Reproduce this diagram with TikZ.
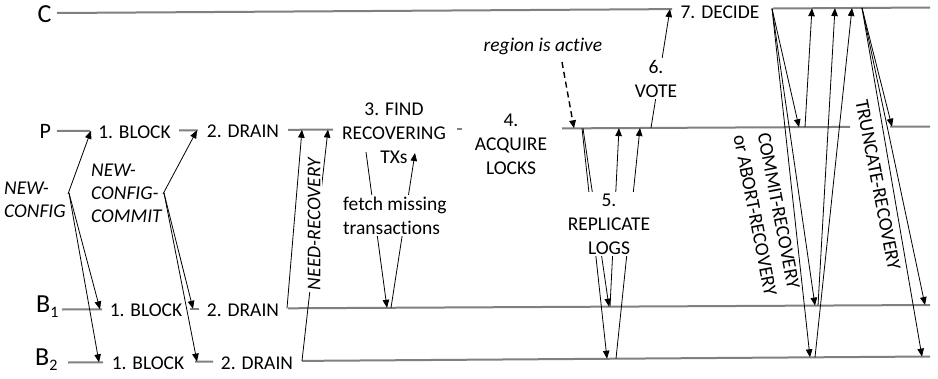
\documentclass[tikz,border=0pt]{standalone}
\usepackage{fontspec}
\setmainfont{Carlito}[Ligatures=NoCommon]
\usetikzlibrary{arrows.meta}
\definecolor{tl}{RGB}{128,128,128}
\tikzset{
  tline/.style={draw=tl, line width=2pt},
  msg/.style={draw=black, line width=0.8pt, -{Triangle[length=8pt,width=6.5pt]}},
  dmsg/.style={msg, line width=1.4pt, dash pattern=on 6pt off 4pt},
  txt/.style={inner sep=0pt, font=\fontsize{19.5}{24}\selectfont, align=center},
  itxt/.style={inner sep=0pt, font=\fontsize{19.5}{23}\selectfont\itshape},
  wbg/.style={fill=white, inner sep=2pt},
  lbl/.style={inner sep=0pt, font=\fontsize{26}{26}\selectfont, anchor=base west},
}
\begin{document}
\begin{tikzpicture}[x=1pt,y=-1pt]
\useasboundingbox (0,0) rectangle (938,378);
% ---------- timelines ----------
\draw[tline] (57,13) -- (672,9.1);
\draw[tline] (773,8.5) -- (930,7.5);
\draw[tline] (57,131) -- (90,130.8);
\draw[tline] (179,130.4) -- (198,130.3);
\draw[tline] (288,129.8) -- (333,129.6);
\draw[tline] (457,128.9) -- (462,128.9);
\draw[tline] (562,128.4) -- (850,126.9);
\draw[tline] (890,126.7) -- (930,126.5);
\draw[tline] (62,309.5) -- (102,309.3);
\draw[tline] (190,308.8) -- (199,308.8);
\draw[tline] (288,308.3) -- (930,305);
\draw[tline] (68,362.5) -- (103,362.3);
\draw[tline] (195,361.6) -- (213,361.5);
\draw[tline] (302,360.9) -- (930,356.5);
% ---------- process labels ----------
\node[lbl] (lC) at (37.5,22.5) {C};
\node[lbl, font=\fontsize{22}{22}\selectfont] (lP) at (39.5,138) {P};
\node[lbl] (lB1) at (36,312) {B\raisebox{-5pt}{\fontsize{16}{16}\selectfont 1}};
\node[lbl] (lB2) at (35,365) {B\raisebox{-5pt}{\fontsize{16}{16}\selectfont 2}};
% ---------- coordinates ----------
\coordinate (nc) at (68,194);
\coordinate (ncd) at (69,193);
\coordinate (ncP) at (91,130.8);
\coordinate (ncB1) at (100,309.3);
\coordinate (ncB2) at (99,362.3);
\coordinate (cc) at (163,194);
\coordinate (ccd) at (164,193);
\coordinate (ccP) at (197,130.3);
\coordinate (ccB1) at (193,308.8);
\coordinate (ccB2) at (197,361.6);
\coordinate (nr1) at (287,308.3);
\coordinate (nr1P) at (302,129.7);
\coordinate (nr2) at (302,360.9);
\coordinate (nr2P) at (328,129.6);
\coordinate (f1) at (366,152);
\coordinate (f1B) at (387,307.8);
\coordinate (f2B) at (391,307.8);
\coordinate (f2) at (415,153);
\coordinate (ra) at (562,62);
\coordinate (raP) at (574,128.3);
\coordinate (r1P) at (582,128.3);
\coordinate (r1B2) at (607,358.7);
\coordinate (r2P) at (583,128.3);
\coordinate (r2B1) at (609,306.7);
\coordinate (r3B1) at (610,306.7);
\coordinate (r3P) at (619,128.1);
\coordinate (r4B2) at (616,358.7);
\coordinate (r4P) at (640,128);
\coordinate (vP) at (651,127.9);
\coordinate (vC) at (670,9.1);
\coordinate (dC) at (772,8.5);
\coordinate (dP) at (799,127.2);
\coordinate (dB1) at (815,305.6);
\coordinate (dB2) at (810,357.3);
\coordinate (uP) at (805,127.1);
\coordinate (uC1) at (812,8.2);
\coordinate (uB1) at (818,305.6);
\coordinate (uC2) at (835,8.1);
\coordinate (uB2) at (815,357.3);
\coordinate (uC3) at (852,8);
\coordinate (tC) at (862,7.9);
\coordinate (tP) at (892,126.7);
\coordinate (tB1) at (925,305);
\coordinate (tB2) at (922,356.6);
% ---------- messages ----------
\draw[msg] (nc) -- (ncP);
\draw[msg] (ncd) -- (ncB1);
\draw[msg] (ncd) -- (ncB2);
\draw[msg] (cc) -- (ccP);
\draw[msg] (ccd) -- (ccB1);
\draw[msg] (ccd) -- (ccB2);
\draw[msg] (nr1) -- (nr1P);
\draw[msg] (nr2) -- (nr2P);
\draw[msg] (f1) -- (f1B);
\draw[msg] (f2B) -- (f2);
\draw[dmsg] (ra) -- (raP);
\draw[msg] (r1P) -- (r1B2);
\draw[msg] (r2P) -- (r2B1);
\draw[msg] (r3B1) -- (r3P);
\draw[msg] (r4B2) -- (r4P);
\draw[msg] (vP) -- (vC);
\draw[msg] (dC) -- (dP);
\draw[msg] (dC) -- (dB1);
\draw[msg] (dC) -- (dB2);
\draw[msg] (uP) -- (uC1);
\draw[msg] (uB1) -- (uC2);
\draw[msg] (uB2) -- (uC3);
\draw[msg] (tC) -- (tP);
\draw[msg] (tC) -- (tB1);
\draw[msg] (tC) -- (tB2);
% ---------- step texts ----------
\node[txt, anchor=base] (pblock) at (134.5,138) {1. BLOCK};
\node[txt, anchor=base] (pdrain) at (243,137) {2. DRAIN};
\node[txt, anchor=base] (b1block) at (146,316.7) {1. BLOCK};
\node[txt, anchor=base] (b1drain) at (243,316.7) {2. DRAIN};
\node[txt, anchor=base] (b2block) at (148,369) {1. BLOCK};
\node[txt, anchor=base] (b2drain) at (257,369) {2. DRAIN};
\node[txt] (find) at (394,133) {3. FIND\\RECOVERING\\TXs};
\node[txt] (acq) at (511,144) {4.\\ACQUIRE\\LOCKS};
\node[txt, wbg] (repl) at (609,224) {5.\\REPLICATE\\LOGS};
\node[txt, wbg] (vote) at (656,78.5) {6.\\VOTE};
\node[txt] (decide) at (720,12) {7. DECIDE};
\node[itxt] (active) at (543,46) {region is active};
\node[itxt, align=left, anchor=west] (newcfg) at (4,200) {NEW-\\CONFIG};
\node[itxt, align=left, anchor=west] (cfgcommit) at (91,193.5) {NEW-\\CONFIG-\\COMMIT};
\node[itxt, wbg, rotate=90] (needrec) at (314,224) {NEED-RECOVERY};
\node[txt, wbg, align=left, anchor=west] (fetch) at (341,215.5) {fetch missing\\transactions};
\node[txt, rotate=-79] (commitrec) at (767,213) {COMMIT-RECOVERY\\or ABORT-RECOVERY};
\node[txt, rotate=-79] (truncrec) at (878,185) {TRUNCATE-RECOVERY};
\end{tikzpicture}
\end{document}
